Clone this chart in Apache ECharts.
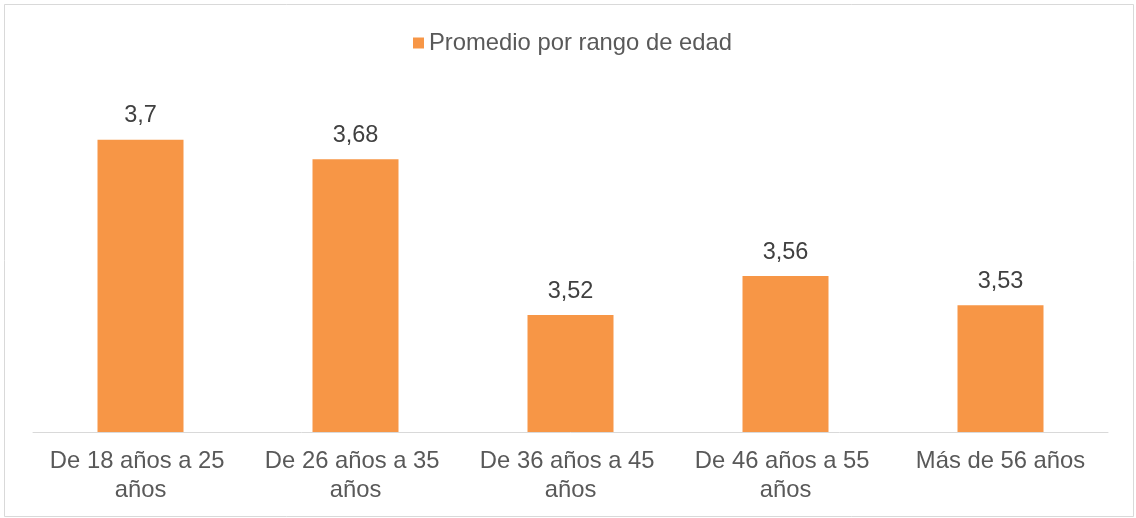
<!DOCTYPE html>
<html>
<head>
<meta charset="utf-8">
<script src="https://cdn.jsdelivr.net/npm/echarts@6/dist/echarts.min.js"></script>
<style>
html,body{margin:0;padding:0;background:#fff;}
#c{width:1136px;height:518px;}
</style>
</head>
<body>
<div id="c"></div>
<script>
const categories = ["De 18 años a 25 años", "De 26 años a 35 años", "De 36 años a 45 años", "De 46 años a 55 años", "Más de 56 años"];
const seriesName = "Promedio por rango de edad";
const values = [3.7, 3.68, 3.52, 3.56, 3.53];

const chart = echarts.init(document.getElementById('c'));
const font = '"Liberation Sans", Arial, sans-serif';
chart.setOption({
  animation: false,
  backgroundColor: '#fff',
  graphic: [{
    type: 'rect', silent: true, z: -10,
    shape: { x: 4.5, y: 4.5, width: 1129, height: 512 },
    style: { fill: 'none', stroke: '#d9d9d9', lineWidth: 1 }
  }],
  legend: {
    top: 26, left: 408, padding: 5,
    itemWidth: 11, itemHeight: 11, itemGap: 7,
    icon: 'rect',
    textStyle: { fontFamily: font, fontSize: 23.8, color: '#595959' },
    data: [seriesName]
  },
  grid: { left: 33, right: 28, top: 91, bottom: 86, containLabel: false },
  xAxis: {
    type: 'category', data: categories,
    axisLine: { lineStyle: { color: '#d9d9d9', width: 1 } },
    axisTick: { show: false },
    axisLabel: {
      interval: 0, margin: 15, color: '#595959', fontFamily: font, fontSize: 23.8,
      lineHeight: 29, width: 205, overflow: 'break'
    }
  },
  yAxis: {
    type: 'value', min: 3.4, max: 3.75, show: false,
    splitLine: { show: false }
  },
  series: [{
    name: seriesName, type: 'bar', data: values, barWidth: '40%',
    itemStyle: { color: '#F79646' },
    label: {
      show: true, position: 'top', distance: 12,
      color: '#404040', fontFamily: font, fontSize: 23.5,
      formatter: p => String(p.value).replace('.', ',')
    }
  }]
});
</script>
</body>
</html>
